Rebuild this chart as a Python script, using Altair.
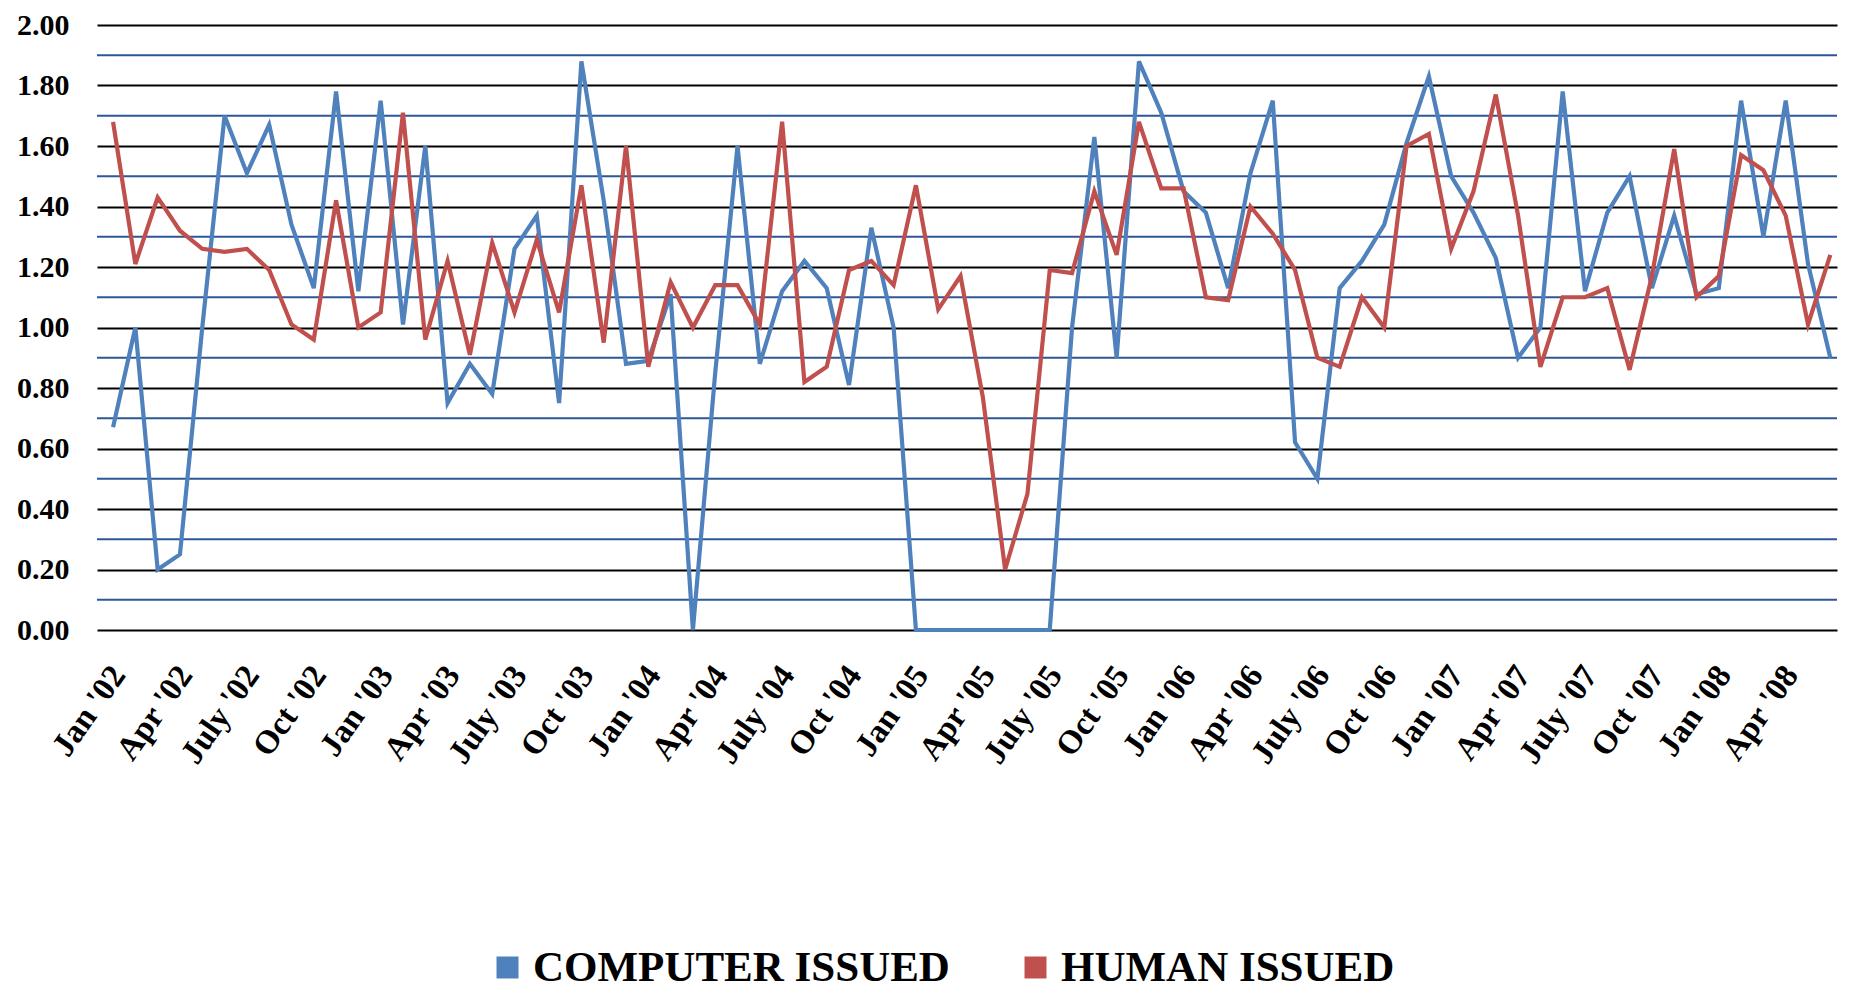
import json
import altair as alt
import pandas as pd

series_names = ["COMPUTER ISSUED", "HUMAN ISSUED"]
series_colors = ["#4F81BD", "#C0504D"]

computer = [0.67, 1.00, 0.20, 0.25, 1.00, 1.70, 1.51, 1.67, 1.34, 1.13,
            1.78, 1.12, 1.75, 1.01, 1.60, 0.75, 0.88, 0.78, 1.26, 1.37,
            0.75, 1.88, 1.42, 0.88, 0.89, 1.11, 0.00, 0.85, 1.60, 0.88,
            1.12, 1.22, 1.13, 0.81, 1.33, 1.00, 0.00, 0.00, 0.00, 0.00,
            0.00, 0.00, 0.00, 1.00, 1.63, 0.90, 1.88, 1.71, 1.45, 1.38,
            1.13, 1.51, 1.75, 0.62, 0.50, 1.13, 1.22, 1.34, 1.61, 1.83,
            1.50, 1.38, 1.23, 0.90, 1.00, 1.78, 1.12, 1.38, 1.50, 1.13,
            1.37, 1.11, 1.13, 1.75, 1.30, 1.75, 1.21, 0.90]

human = [1.68, 1.21, 1.43, 1.32, 1.26, 1.25, 1.26, 1.19, 1.01, 0.96,
         1.42, 1.00, 1.05, 1.71, 0.96, 1.22, 0.91, 1.28, 1.05, 1.29,
         1.05, 1.47, 0.95, 1.60, 0.87, 1.15, 1.00, 1.14, 1.14, 1.01,
         1.68, 0.82, 0.87, 1.19, 1.22, 1.14, 1.47, 1.06, 1.17, 0.77,
         0.20, 0.45, 1.19, 1.18, 1.45, 1.24, 1.68, 1.46, 1.46, 1.10,
         1.09, 1.40, 1.31, 1.19, 0.90, 0.87, 1.10, 1.00, 1.60, 1.64,
         1.26, 1.45, 1.77, 1.37, 0.87, 1.10, 1.10, 1.13, 0.86, 1.17,
         1.59, 1.10, 1.17, 1.57, 1.52, 1.37, 1.01, 1.24]

tick_labels = ["Jan '02", "Apr '02", "July '02", "Oct '02",
               "Jan '03", "Apr '03", "July '03", "Oct '03",
               "Jan '04", "Apr '04", "July '04", "Oct '04",
               "Jan '05", "Apr '05", "July '05", "Oct '05",
               "Jan '06", "Apr '06", "July '06", "Oct '06",
               "Jan '07", "Apr '07", "July '07", "Oct '07",
               "Jan '08", "Apr '08"]
tick_months = [3 * k for k in range(len(tick_labels))]

y_major = [0.0, 0.2, 0.4, 0.6, 0.8, 1.0, 1.2, 1.4, 1.6, 1.8, 2.0]
y_minor = [0.1, 0.3, 0.5, 0.7, 0.9, 1.1, 1.3, 1.5, 1.7, 1.9]

rows = []
for i, (c, h) in enumerate(zip(computer, human)):
    rows.append({"m": i, "series": series_names[0], "v": c, "order": 0})
    rows.append({"m": i, "series": series_names[1], "v": h, "order": 1})
df = pd.DataFrame(rows)
minor_df = pd.DataFrame({"g": y_minor})

FONT = "Liberation Serif"
label_expr = json.dumps(tick_labels) + "[round(datum.value/3)]"

x_enc = alt.X(
    "m:Q",
    scale=alt.Scale(domain=[-0.72, 77.3], nice=False, zero=False),
    axis=alt.Axis(
        values=tick_months, labelExpr=label_expr, labelAngle=-55,
        labelFont=FONT, labelFontWeight="bold", labelFontSize=33,
        labelColor="black", labelPadding=39, labelOffset=5,
        labelOverlap=False, labelBound=False, labelFlush=False,
        ticks=False, domain=False, grid=False, title=None,
    ),
)
y_enc = alt.Y(
    "v:Q",
    scale=alt.Scale(domain=[0, 2], nice=False, zero=True),
    axis=alt.Axis(
        values=y_major, format=".2f", labelFont=FONT, labelFontWeight="bold",
        labelFontSize=30, labelColor="black", labelPadding=28, ticks=False,
        domain=False, grid=True, gridColor="black", gridWidth=2,
        gridOpacity=1, title=None,
    ),
)

minor = alt.Chart(minor_df).mark_rule(color="#2B5797", strokeWidth=2).encode(
    y=alt.Y("g:Q", scale=alt.Scale(domain=[0, 2], nice=False))
)

lines = alt.Chart(df).mark_line(strokeWidth=4.2, strokeJoin="miter").encode(
    x=x_enc,
    y=y_enc,
    color=alt.Color(
        "series:N",
        scale=alt.Scale(domain=series_names, range=series_colors),
        legend=alt.Legend(
            orient="none", legendX=389, legendY=921, direction="horizontal",
            title=None, labelFont=FONT, labelFontSize=43,
            labelFontWeight="bold", labelColor="black", columnPadding=58,
            labelOffset=4, labelLimit=0, symbolType="square",
            symbolSize=121, symbolStrokeWidth=11, symbolOpacity=1,
        ),
    ),
    order="order:Q",
)

chart = alt.layer(minor, lines).properties(
    width=1740,
    height=605,
    autosize=alt.AutoSizeParams(type="none"),
    padding={"left": 89, "top": 17, "right": 13, "bottom": 360},
    background="white",
).configure_view(stroke=None)

chart.save("out.html", embed_options={"renderer": "svg", "actions": False})
